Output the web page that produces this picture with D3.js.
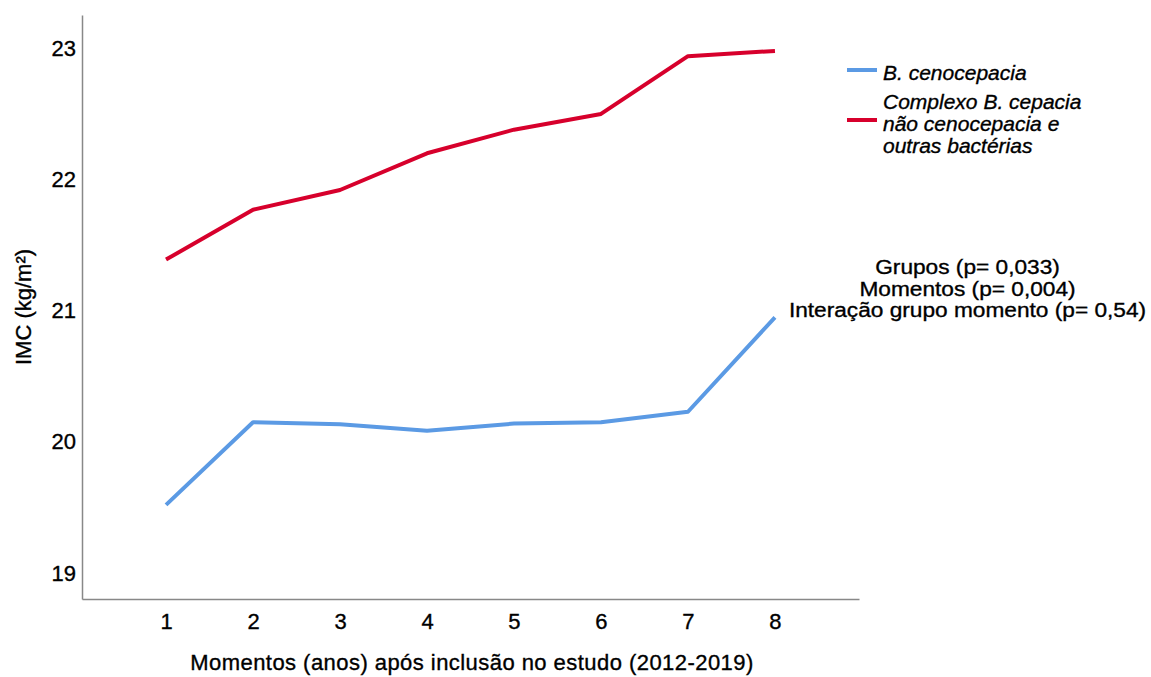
<!DOCTYPE html>
<html><head><meta charset="utf-8">
<script src="https://cdn.jsdelivr.net/npm/d3@7"></script>
<style>
body{margin:0;background:#fff;}
text{font-family:"Liberation Sans",Arial,sans-serif;fill:#000;stroke:#000;stroke-width:0.35px;}
</style></head>
<body>
<svg id="c" width="1151" height="677"></svg>
<script>
const moments = [1,2,3,4,5,6,7,8];
const cenocepacia = [19.52,20.15,20.134,20.085,20.14,20.15,20.23,20.95];
const outras = [21.39,21.77,21.92,22.20,22.38,22.50,22.94,22.98];
const yTicks = [19,20,21,22,23];
const legendLabels = [["B. cenocepacia"],["Complexo B. cepacia","não cenocepacia e","outras bactérias"]];
const colors = ["#5b9ae4","#d7002c"];
const statsLines = ["Grupos (p= 0,033)","Momentos (p= 0,004)","Interação grupo momento (p= 0,54)"];
const xTitle = "Momentos (anos) após inclusão no estudo (2012-2019)";
const yTitle = "IMC (kg/m²)";

const svg = d3.select("#c");
const fs = 22;
const x = d3.scalePoint().domain(moments).range([82,859]).padding(0.966);
const y = d3.scaleLinear().domain([18.803,23.254]).range([599,15]);

const xa = svg.append("g").attr("transform","translate(0,599)")
  .call(d3.axisBottom(x).tickSize(0).tickPadding(14).tickSizeOuter(0));
const ya = svg.append("g").attr("transform","translate(82,0)")
  .call(d3.axisLeft(y).tickValues(yTicks).tickFormat(d3.format("d")).tickSize(0).tickPadding(6).tickSizeOuter(0));
[xa,ya].forEach(a=>{
  a.select(".domain").attr("stroke","#888").attr("stroke-width",1.5);
  a.selectAll("text").attr("font-size",fs).attr("font-family","Liberation Sans").attr("fill","#000");
});

const line = d3.line().x((d,i)=>x(moments[i])).y(d=>y(d));
[cenocepacia,outras].forEach((s,k)=>{
  svg.append("path").datum(s).attr("d",line).attr("fill","none")
    .attr("stroke",colors[k]).attr("stroke-width",4).attr("stroke-linejoin","round");
});

// legend
const lg = svg.append("g");
const legY = [70,120];
const firstLineY = [73,102];
legendLabels.forEach((lines,k)=>{
  lg.append("line").attr("x1",847).attr("x2",877).attr("y1",legY[k]).attr("y2",legY[k])
    .attr("stroke",colors[k]).attr("stroke-width",4);
  lines.forEach((t,j)=>{
    lg.append("text").attr("x",883).attr("y",firstLineY[k]+j*22).attr("dy","0.35em")
      .attr("font-size",21).attr("font-style","italic").text(t);
  });
});

// stats
const sg = svg.append("g").attr("transform","translate(967.5,0) scale(1.08,1)");
statsLines.forEach((t,j)=>{
  sg.append("text").attr("x",0).attr("y",266.5+j*21.7).attr("dy","0.35em")
    .attr("text-anchor","middle").attr("font-size",21).text(t);
});

// titles
svg.append("text").attr("x",472).attr("y",662).attr("dy","0.35em").attr("text-anchor","middle")
  .attr("font-size",fs).attr("letter-spacing","0.45px").text(xTitle);
svg.append("text").attr("transform","translate(23,307) rotate(-90)").attr("dy","0.35em")
  .attr("text-anchor","middle").attr("font-size",fs).text(yTitle);
</script>
</body></html>
